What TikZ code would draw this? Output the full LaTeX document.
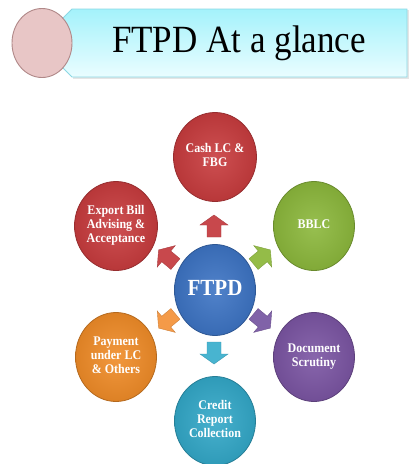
\documentclass[tikz,border=0pt]{standalone}
\usepackage{fontspec}
\setmainfont{Liberation Serif}
\usetikzlibrary{shapes.geometric}
\definecolor{cRed}{HTML}{C83C3E}
\definecolor{cGreen}{HTML}{8CB83C}
\definecolor{cBlue}{HTML}{3D74C4}
\definecolor{cOrange}{HTML}{F08C28}
\definecolor{cPurple}{HTML}{7B55A3}
\definecolor{cCyan}{HTML}{33A8C8}
\definecolor{aRed}{HTML}{C8484C}
\definecolor{aGreen}{HTML}{94BC48}
\definecolor{aOrange}{HTML}{F49A48}
\definecolor{aPurple}{HTML}{8062A8}
\definecolor{aCyan}{HTML}{48B4D0}
\definecolor{bannerTop}{HTML}{A4F2FB}
\definecolor{bannerBot}{HTML}{EAFDFF}
\definecolor{bannerLine}{HTML}{8CD8E4}
\definecolor{pinkFill}{HTML}{E8C6C6}
\definecolor{pinkLine}{HTML}{B08888}
\newcommand{\ctext}[1]{\scalebox{1}[1.1]{\begin{tabular}{@{}c@{}}#1\end{tabular}}}
\newcommand{\blockarr}[4]{%
  \begin{scope}[shift={(#2)}, rotate=#3]
    \coordinate (#1) at (0,0);
    \fill[#4, draw=#4!85!black, line width=0.4pt]
      (-11,-7) -- (1,-7) -- (1,-14) -- (11,0) -- (1,14) -- (1,7) -- (-11,7) -- cycle;
  \end{scope}}
\tikzset{
  ball/.style={ellipse, minimum width=81pt, minimum height=89pt, inner sep=0pt,
    draw=#1!75!black, line width=0.8pt,
    inner color=#1!90!white, outer color=#1!92!black,
    text=white, font=\fontsize{12}{12.8}\selectfont\bfseries},
}
\begin{document}
\begin{tikzpicture}[x=1pt,y=-1pt]
\useasboundingbox (0,0) rectangle (409,464);
% banner
\fill[black!10] (73,10) -- (408.5,10) -- (408.5,79) -- (73,79) -- cycle;
\path[top color=bannerTop, bottom color=bannerBot, draw=bannerLine, line width=0.8pt]
  (72,9) -- (407,9) -- (407,77) -- (72,77) -- (62,67) -- (62,19) -- cycle;
\node[ellipse, minimum width=60pt, minimum height=69pt, inner sep=0pt,
  fill=pinkFill, draw=pinkLine, line width=0.9pt] (badge) at (42,43) {};
\node[inner sep=0pt] (title) at (239,43)
  {\scalebox{1}[1.1]{\fontsize{35}{40}\selectfont FTPD At a glance}};
% arrows
\blockarr{arUp}{214,226}{90}{aRed}
\blockarr{arUL}{167,257}{140}{aRed}
\blockarr{arUR}{262,257}{40}{aGreen}
\blockarr{arDL}{167,321}{-140}{aOrange}
\blockarr{arDR}{262,321}{-40}{aPurple}
\blockarr{arDn}{214,353}{-90}{aCyan}
% circles
\node[ball=cRed] (cash) at (215,157) {\ctext{Cash LC \&\\FBG}};
\node[ball=cGreen] (bblc) at (314,226) {\ctext{BBLC}};
\node[ball=cRed] (export) at (116,226) {\ctext{Export Bill\\Advising \&\\Acceptance}};
\node[ball=cBlue, minimum height=91pt, font=\fontsize{21}{24}\selectfont\bfseries] (ftpd) at (215,290) {\ctext{FTPD}};
\node[ball=cOrange] (pay) at (116,357) {\ctext{Payment\\under LC\\\& Others}};
\node[ball=cPurple] (doc) at (314,357) {\ctext{Document\\Scrutiny}};
\node[ball=cCyan] (credit) at (215,421) {\ctext{Credit\\Report\\Collection}};
\end{tikzpicture}
\end{document}
